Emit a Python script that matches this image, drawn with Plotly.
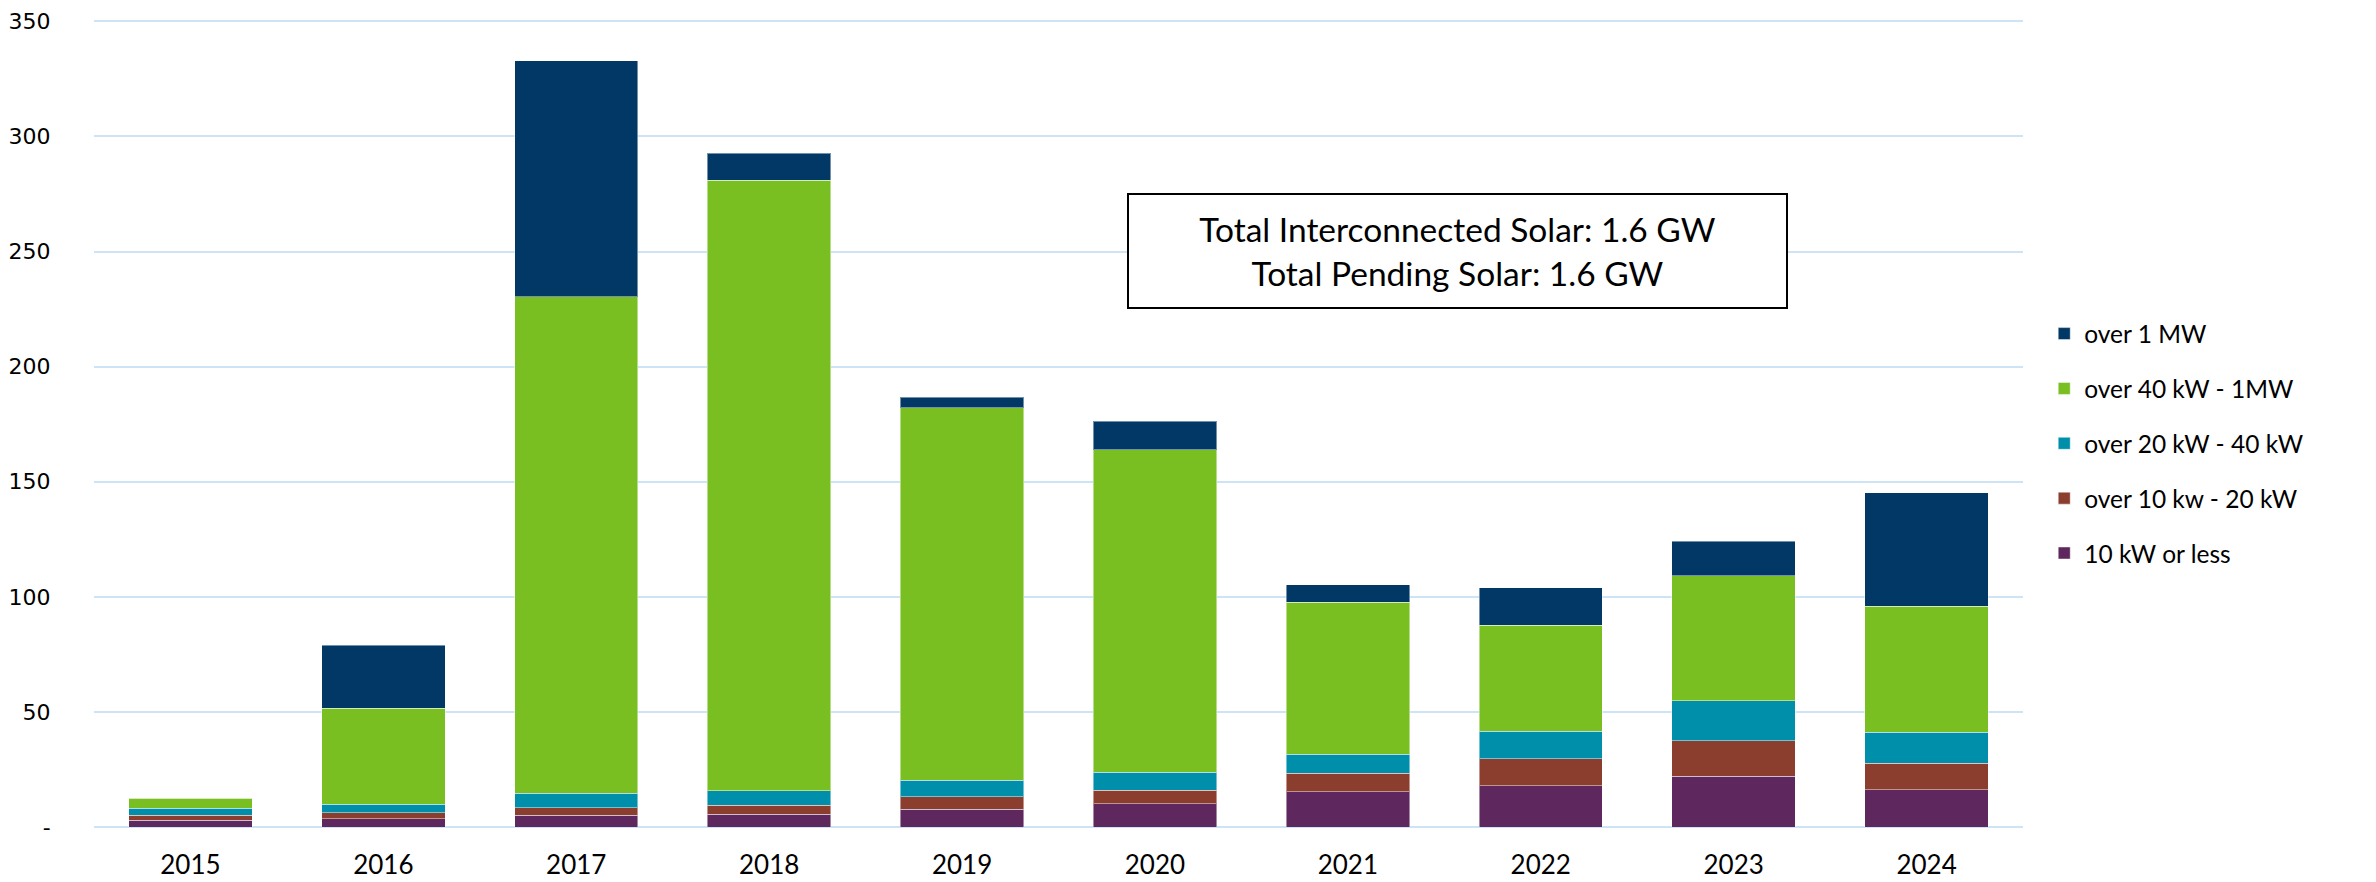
import plotly.graph_objects as go

years = ['2015', '2016', '2017', '2018', '2019', '2020', '2021', '2022', '2023', '2024']

# MW by system size
kw10_or_less = [2.9, 3.5, 5.1, 5.5, 7.8, 10.0, 15.3, 17.9, 22.0, 16.2]
kw10_20 = [2.2, 2.6, 3.2, 3.9, 5.4, 6.0, 8.1, 11.8, 15.5, 11.6]
kw20_40 = [3.0, 3.8, 6.4, 6.3, 7.1, 7.8, 8.3, 11.9, 17.3, 13.3]
kw40_1mw = [4.4, 41.7, 215.6, 265.2, 161.9, 140.0, 66.0, 46.0, 54.3, 54.8]
over_1mw = [0.0, 27.4, 102.6, 11.9, 4.6, 12.5, 7.6, 16.4, 15.1, 49.3]

series = [
    ('10 kW or less', kw10_or_less, '#5e285e'),
    ('over 10 kw - 20 kW', kw10_20, '#8b3d2e'),
    ('over 20 kW - 40 kW', kw20_40, '#008fab'),
    ('over 40 kW - 1MW', kw40_1mw, '#7abf22'),
    ('over 1 MW', over_1mw, '#023865'),
]

ytick_vals = [0, 50, 100, 150, 200, 250, 300, 350]
ytick_text = ['-', '50', '100', '150', '200', '250', '300', '350']

fig = go.Figure()
for i, (name, vals, col) in enumerate(series):
    fig.add_trace(go.Bar(x=years, y=vals, name=name, marker_color=col, legendgroup=name,
                         legendrank=1000 - i,
                         marker_line=dict(color='rgba(255,255,255,0.45)', width=1)))

# page body has an 8px margin, so the figure is a bit smaller than the window
fig.update_layout(
    barmode='stack',
    bargap=0.36,
    width=2368, height=874,
    margin=dict(l=86, r=353, t=12, b=55, autoexpand=False),
    plot_bgcolor='white', paper_bgcolor='white',
    font=dict(family='Lato', color='black'),
    legend=dict(traceorder='grouped', x=1.011, xanchor='left', y=0.475, yanchor='middle',
                font=dict(size=24.5), tracegroupgap=20, itemwidth=30),
    showlegend=True,
)
fig.update_xaxes(showgrid=False, showline=False, ticks='outside', ticklen=15, tickcolor='white',
                 tickfont=dict(size=26, family='Lato'), automargin=False)
fig.update_yaxes(range=[0, 350.6], tickvals=ytick_vals, ticktext=ytick_text,
                 showgrid=True, gridcolor='#cce4f6', gridwidth=2, zeroline=True,
                 zerolinecolor='#cce4f6', zerolinewidth=2,
                 ticks='outside', ticklen=38, tickcolor='white',
                 tickfont=dict(size=22, family='DejaVu Sans'), automargin=False)

fig.add_annotation(
    xref='paper', yref='paper', x=0.7066, y=0.714, xanchor='center', yanchor='middle',
    showarrow=False,
    text='Total Interconnected Solar: 1.6 GW<br>Total Pending Solar: 1.6 GW',
    font=dict(size=33.5, family='Lato'), align='center',
    bordercolor='black', borderwidth=2, bgcolor='white',
    width=655, height=110,
)

fig.write_html('out.html')
